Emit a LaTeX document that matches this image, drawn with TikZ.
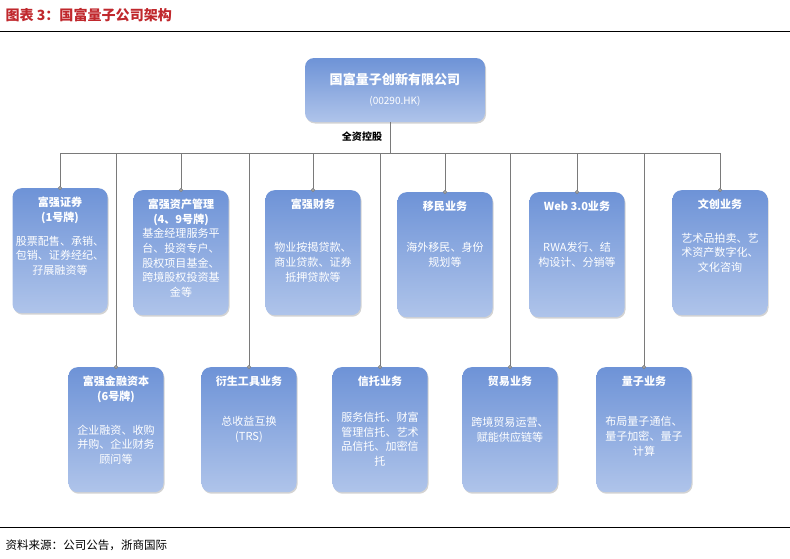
\documentclass[tikz,border=0pt]{standalone}
\usepackage{fontspec}
\setmainfont{Noto Sans CJK SC}
\usetikzlibrary{positioning,shadows}
\definecolor{boxtop}{HTML}{6E93D7}
\definecolor{boxbot}{HTML}{AFC4EA}
\definecolor{linegray}{HTML}{7A7A7A}
\definecolor{titlered}{HTML}{C0282D}
\tikzset{%
    base/.style = {
        rounded corners=9pt,
        text=white,
        align=center,
        font=\fontsize{11}{14.5}\selectfont,
        top color=boxtop,
        bottom color=boxbot,
        drop shadow={opacity=0.35,shadow xshift=1pt,shadow yshift=-1.5pt},
        inner sep=0pt,
    },
    unit/.style = {
        base,
        anchor=north,
        minimum width=95*0.035cm,
        minimum height=125*0.035cm,
    },
    head/.style = {
        text=white,
        align=center,
        font=\fontsize{11}{14.5}\selectfont\bfseries,
        anchor=north,
        inner sep=0pt,
    },
    link/.style = {
        draw=linegray,
        line width=0.9pt,
    },
    dot/.style = {
        circle,
        draw=linegray,
        fill=white,
        inner sep=0pt,
        minimum size=3pt,
    },
}

\begin{document}
\begin{tikzpicture}[x=0.035cm,y=-0.035cm]
    \useasboundingbox (0,0) rectangle (790,558);
    % title and rules
    \node [anchor=west,text=titlered,font=\fontsize{14}{16}\selectfont\bfseries] (title) at (2,15) {图表 3：国富量子公司架构};
    \draw [line width=0.8pt] (0,31) -- (790,31);
    \draw [line width=0.8pt] (0,527) -- (790,527);
    \node [anchor=west,font=\fontsize{11.5}{12}\selectfont] (source) at (2,545) {资料来源：公司公告，浙商国际};

    % parent
    \node [base,minimum width=180*0.035cm,minimum height=64*0.035cm,font=\fontsize{13}{20}\selectfont\bfseries] (parent) at (395,90)
        {国富量子创新有限公司\\{\fontsize{10}{10}\selectfont\mdseries (00290.HK)}};
    \node [font=\fontsize{10}{10}\selectfont\bfseries] (hold) at (362,137) {全资控股};
    \coordinate (bus) at (390,153);
    \coordinate (busL) at (60,153);
    \coordinate (busR) at (720,153);

    % first row
    \node [unit] (sec) at (60,188) {};
    \node [head] (secH) at ([yshift=-9pt]sec.north) {富强证券\\(1号牌)\\[9pt]\mdseries 股票配售、承销、\\\mdseries 包销、证券经纪、\\\mdseries 孖展融资等};
    \node [unit] (asset) at (181,190) {};
    \node [head] (assetH) at ([yshift=-9pt]asset.north) {富强资产管理\\(4、9号牌)\\\mdseries 基金经理服务平\\\mdseries 台、投资专户、\\\mdseries 股权项目基金、\\\mdseries 跨境股权投资基\\\mdseries 金等};
    \node [unit] (fin) at (313,190) {\\[14pt]物业按揭贷款、\\商业贷款、证券\\抵押贷款等};
    \node [head] (finH) at ([yshift=-9pt]fin.north) {富强财务};
    \node [unit] (immig) at (445,192) {海外移民、身份\\规划等};
    \node [head] (immigH) at ([yshift=-9pt]immig.north) {移民业务};
    \node [unit] (web) at (577,192) {RWA发行、结\\构设计、分销等};
    \node [head] (webH) at ([yshift=-9pt]web.north) {Web 3.0业务};
    \node [unit] (culture) at (720,190) {艺术品拍卖、艺\\术资产数字化、\\文化咨询};
    \node [head] (cultureH) at ([yshift=-9pt]culture.north) {文创业务};

    % second row
    \node [unit] (cap) at (116,367) {\\[24pt]企业融资、收购\\并购、企业财务\\顾问等};
    \node [head] (capH) at ([yshift=-9pt]cap.north) {富强金融资本\\(6号牌)};
    \node [unit] (deriv) at (249,367) {总收益互换\\(TRS)};
    \node [head] (derivH) at ([yshift=-9pt]deriv.north) {衍生工具业务};
    \node [unit] (trust) at (380,367) {\\[14pt]服务信托、财富\\管理信托、艺术\\品信托、加密信\\托};
    \node [head] (trustH) at ([yshift=-9pt]trust.north) {信托业务};
    \node [unit] (trade) at (510,367) {跨境贸易运营、\\赋能供应链等};
    \node [head] (tradeH) at ([yshift=-9pt]trade.north) {贸易业务};
    \node [unit] (quant) at (644,367) {\\[8pt]布局量子通信、\\量子加密、量子\\计算};
    \node [head] (quantH) at ([yshift=-9pt]quant.north) {量子业务};

    % connectors
    \draw [link] (parent.south -| bus) -- (bus);
    \draw [link] (busL) -- (busR);
    \foreach \n in {sec,asset,fin,immig,web,culture,cap,deriv,trust,trade,quant}
        \draw [link] (\n.north |- bus) -- (\n.north) node [dot] {};
\end{tikzpicture}
\end{document}
